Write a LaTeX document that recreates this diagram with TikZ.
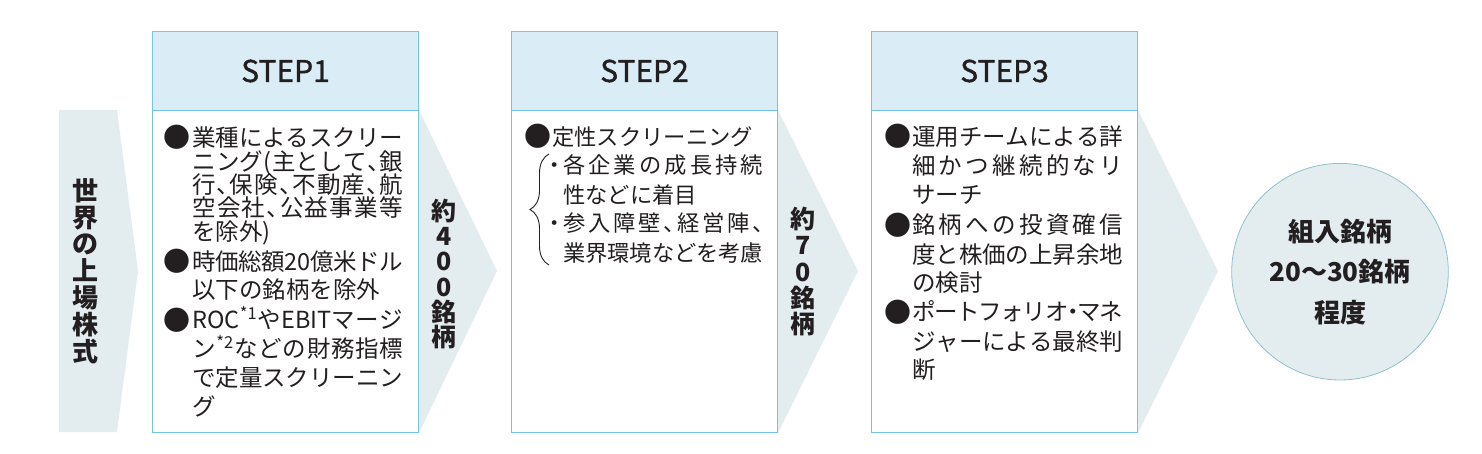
\documentclass[tikz,border=0pt]{standalone}
\usepackage{fontspec}
\setmainfont{Noto Sans CJK JP}
\newfontfamily\stepfont{Noto Sans CJK JP}[RawFeature={embolden=1.2}]
\usetikzlibrary{decorations.pathreplacing,backgrounds}
\definecolor{txt}{HTML}{231F20}
\definecolor{hdr}{HTML}{DAECF6}
\definecolor{bdr}{HTML}{74C4EA}
\definecolor{chev}{HTML}{E3EDF0}
\definecolor{circbd}{HTML}{8FC1CC}
\makeatletter
\newcommand\spr[2]{\makebox[#1][s]{\spr@#2\@nil}}
\def\spr@#1#2\@nil{#1\if\relax\detokenize{#2}\relax\else\hskip0pt plus 1fil minus 1fil\relax\spr@#2\@nil\fi}
\makeatother
\newcommand\ten{\makebox[.5em][l]{、}}
\newcommand\nak{\makebox[.5em][c]{・}}
\begin{document}
\begin{tikzpicture}[x=1pt,y=-1pt,
  every node/.style={text=txt},
  hdrbox/.style={draw=bdr, fill=hdr, line width=1pt, minimum width=266pt, minimum height=79pt, anchor=north west, inner sep=0, font=\stepfont\fontsize{30}{30}\selectfont},
  bodybox/.style={draw=bdr, fill=white, line width=1pt, minimum width=266pt, minimum height=322pt, anchor=north west, inner sep=0},
  ln/.style={anchor=base west, inner sep=0, font=\fontsize{23.5}{23.5}\selectfont},
  lnb/.style={anchor=base west, inner sep=0, font=\fontsize{22.3}{22.3}\selectfont},
  bul/.style={anchor=base, inner sep=0, font=\fontsize{27}{27}\selectfont},
  dot/.style={anchor=base, inner sep=0, font=\fontsize{22.3}{22.3}\selectfont},
  vert/.style={align=center, inner sep=0, font=\fontsize{25}{25.3}\selectfont\bfseries},
  chevron/.style={fill=chev, draw=none}]
\useasboundingbox (0,0) rectangle (1482,454);

% left chevron
\coordinate (w1) at (59,110);
\coordinate (w2) at (117,110);
\coordinate (w3) at (138,271);
\coordinate (w4) at (117,432);
\coordinate (w5) at (59,432);
\fill[chevron] (w1) -- (w2) -- (w3) -- (w4) -- (w5) -- cycle;
\node[align=center, inner sep=0, font=\fontsize{26}{26.8}\selectfont\bfseries] (world) at (85,271) {世\\界\\の\\上\\場\\株\\式};

% boxes
\node[hdrbox] (h1) at (152,31) {STEP1};
\node[bodybox] (b1) at (152,110) {};
\node[hdrbox] (h2) at (511,31) {STEP2};
\node[bodybox] (b2) at (511,110) {};
\node[hdrbox] (h3) at (871,31) {STEP3};
\node[bodybox] (b3) at (871,110) {};

\coordinate (t1) at (497,271);
\coordinate (t2) at (858,271);
\coordinate (t3) at (1218,271);
\begin{scope}[on background layer]
\fill[chevron] (b1.north east) -- (t1) -- (b1.south east) -- cycle;
\fill[chevron] (b2.north east) -- (t2) -- (b2.south east) -- cycle;
\fill[chevron] (b3.north east) -- (t3) -- (b3.south east) -- cycle;
\end{scope}

% STEP1 text
\node[bul] (p1a) at (177,147.8) {●};
\node[ln] (s1l1) at (192,146.4) {\spr{211pt}{業種によるスクリー}};
\node[ln] (s1l2) at (192,170.4) {\spr{211pt}{ニング(主として\ten 銀}};
\node[ln] (s1l3) at (192,193.9) {\spr{211pt}{行\ten 保険\ten 不動産\ten 航}};
\node[ln] (s1l4) at (192,216.9) {\spr{211pt}{空会社\ten 公益事業等}};
\node[ln] (s1l5) at (192,240.4) {を除外)};
\node[bul] (p1b) at (177,271.8) {●};
\node[ln] (s1l6) at (192,270.4) {\spr{211pt}{時価総額{20}億米ドル}};
\node[ln] (s1l7) at (192,298.9) {以下の銘柄を除外};
\node[bul] (p1c) at (177,330.3) {●};
\node[ln] (s1l8) at (192,328.9) {\spr{211pt}{{ROC}{\textsuperscript{*1}}や{EBIT}マージ}};
\node[ln] (s1l9) at (192,357.9) {\spr{211pt}{ン{\textsuperscript{*2}}などの財務指標}};
\node[ln] (s1l10) at (192,386.9) {\spr{211pt}{で定量スクリーニン}};
\node[ln] (s1l11) at (192,415.4) {グ};

\node[vert] (n400) at (444,274) {約\\4\\0\\0\\銘\\柄};

% STEP2 text
\node[bul] (p2a) at (537.5,147) {●};
\node[lnb] (s2l1) at (552,145.2) {定性スクリーニング};
\node[dot] (d2a) at (555,173.5) {・};
\node[lnb] (s2l2) at (563,173.5) {\spr{200pt}{各企業の成長持続}};
\node[lnb] (s2l3) at (563,203.5) {性などに着目};
\node[dot] (d2b) at (555,231.5) {・};
\node[lnb] (s2l4) at (563,231.5) {\spr{200pt}{参入障壁\ten 経営陣\ten}};
\node[lnb] (s2l5) at (563,261.5) {\spr{200pt}{業界環境などを考慮}};
\coordinate (br1) at (549,265);
\coordinate (br2) at (549,154);
\draw[txt, line width=0.9pt, decorate, decoration={brace, amplitude=19pt}] (br1) -- (br2);

\node[vert, font=\fontsize{25}{26.3}\selectfont\bfseries] (n70) at (803,271.5) {約\\7\\0\\銘\\柄};

% STEP3 text
\node[bul] (p3a) at (897.5,147) {●};
\node[ln] (s3l1) at (912,145.6) {\spr{211pt}{運用チームによる詳}};
\node[ln] (s3l2) at (912,174.9) {\spr{211pt}{細かつ継続的なリ}};
\node[ln] (s3l3) at (912,203.9) {サーチ};
\node[bul] (p3b) at (897.5,235.3) {●};
\node[ln] (s3l4) at (912,233.9) {\spr{211pt}{銘柄への投資確信}};
\node[ln] (s3l5) at (912,263.9) {\spr{211pt}{度と株価の上昇余地}};
\node[ln] (s3l6) at (912,291.9) {の検討};
\node[bul] (p3c) at (897.5,322.3) {●};
\node[ln] (s3l7) at (912,320.9) {\spr{211pt}{ポートフォリオ\nak マネ}};
\node[ln] (s3l8) at (912,350.6) {\spr{211pt}{ジャーによる最終判}};
\node[ln] (s3l9) at (912,378.9) {断};

% result circle
\node[circle, fill=chev, draw=circbd, line width=0.8pt, minimum size=216.6pt, inner sep=0,
  align=center, font=\fontsize{26}{40.5}\selectfont\bfseries] (res) at (1340,271.7) {組入銘柄\\20〜30銘柄\\程度};
\end{tikzpicture}
\end{document}
